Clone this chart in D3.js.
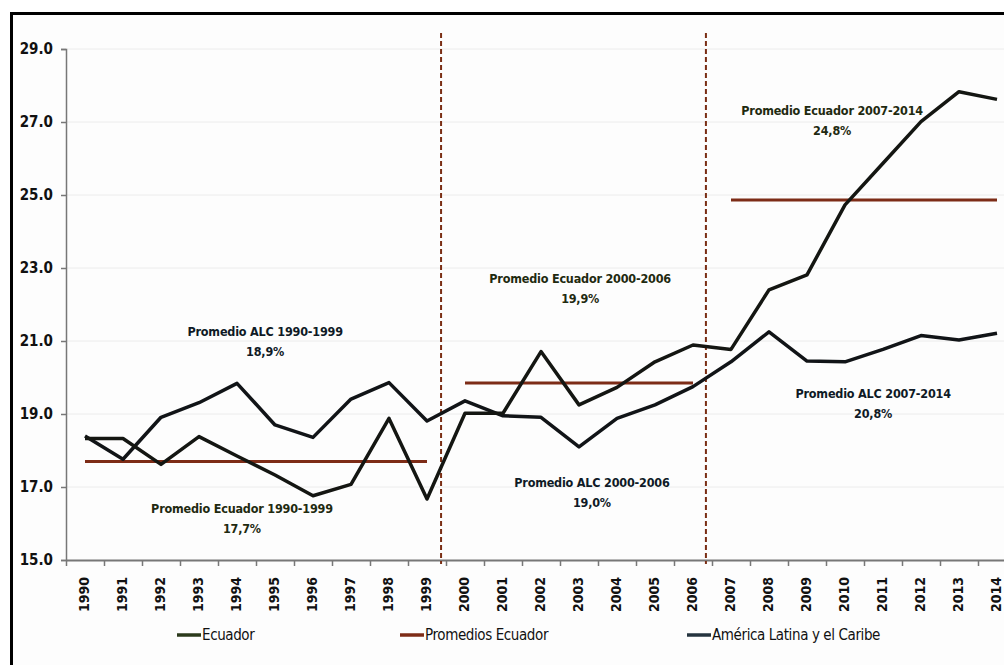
<!DOCTYPE html>
<html>
<head>
<meta charset="utf-8">
<script src="https://cdn.jsdelivr.net/npm/d3@7"></script>
<style>
  body { margin: 0; background: #ffffff; }
  svg { display: block; }
  .tick text { font-family: "Liberation Sans Narrow", "DejaVu Sans Condensed", sans-serif; font-weight: bold; fill: #111; }
  .note { font-family: "Liberation Sans Narrow", "DejaVu Sans Condensed", sans-serif; font-weight: bold; font-size: 12.5px; letter-spacing: -0.2px; }
  .legend-text { font-family: "Liberation Sans Narrow", "DejaVu Sans Condensed", sans-serif; font-size: 15px; letter-spacing: -0.4px; fill: #111; }
</style>
</head>
<body>
<div id="graphique"></div>
<script>
// années
const annees = d3.range(1990, 2015);

// Ecuador (% du PIB)
const ecuador = [18.33, 18.33, 17.62, 18.38, 17.85, 17.33, 16.76, 17.07, 18.88, 16.67,
                 19.02, 19.02, 20.71, 19.25, 19.73, 20.43, 20.89, 20.77, 22.40, 22.81,
                 24.73, 25.87, 27.01, 27.83, 27.62];

// América Latina y el Caribe
const alc = [18.40, 17.76, 18.91, 19.31, 19.84, 18.70, 18.36, 19.41, 19.86, 18.81,
             19.36, 18.95, 18.91, 18.10, 18.88, 19.25, 19.75, 20.43, 21.25, 20.45,
             20.43, 20.77, 21.15, 21.03, 21.21];

// promedios Ecuador par période
const promedios = [
    { debut: 1990, fin: 1999, valeur: 17.7 },
    { debut: 2000, fin: 2006, valeur: 19.85 },
    { debut: 2007, fin: 2014, valeur: 24.86 }
];

// séparateurs de période (traits pointillés)
const separateurs = [1999.37, 2006.34];

const yTicks = [15, 17, 19, 21, 23, 25, 27, 29];

// textes des promedios
const notes = [
    { l1: "Promedio ALC  1990-1999", l2: "18,9%", annee: 1994.74, valeur: 21.27, serie: "alc" },
    { l1: "Promedio Ecuador 1990-1999", l2: "17,7%", annee: 1994.13, valeur: 16.42, serie: "ecu" },
    { l1: "Promedio Ecuador  2000-2006", l2: "19,9%", annee: 2003.03, valeur: 22.7, serie: "ecu" },
    { l1: "Promedio ALC  2000-2006", l2: "19,0%", annee: 2003.34, valeur: 17.11, serie: "alc" },
    { l1: "Promedio Ecuador  2007-2014", l2: "24,8%", annee: 2009.66, valeur: 27.3, serie: "ecu" },
    { l1: "Promedio ALC  2007-2014", l2: "20,8%", annee: 2010.74, valeur: 19.55, serie: "alc" }
];

const legende = ["Ecuador", "Promedios Ecuador", "América Latina y el Caribe"];

function AffichageGraph() {
    const width = 1004, height = 665;
    const margin = { top: 49, left: 66 };
    const innerWidth = 950, innerHeight = 511;

    const svg = d3.select("#graphique").append("svg")
        .attr("width", width)
        .attr("height", height);

    // cadre noir
    svg.append("rect")
        .attr("x", 11.5).attr("y", 13.5)
        .attr("width", 1020).attr("height", 700)
        .style("fill", "#fdfdfd")
        .style("stroke", "#000")
        .style("stroke-width", 3);

    const g = svg.append("g")
        .attr("transform", `translate(${margin.left},${margin.top})`);

    const xScale = d3.scaleLinear()
        .domain([1989.5, 2014.5])
        .range([0, innerWidth]);

    const yScale = d3.scaleLinear()
        .domain([15, 29])
        .range([innerHeight, 0]);

    // grille
    g.selectAll(".grid")
        .data(yTicks.slice(1))
        .enter()
        .append("line")
        .attr("class", "grid")
        .attr("x1", 0)
        .attr("x2", innerWidth)
        .attr("y1", d => yScale(d))
        .attr("y2", d => yScale(d))
        .style("stroke", "#ececec")
        .style("stroke-width", 1);

    // axe ordonnee
    const axeY = g.append("g")
        .call(d3.axisLeft(yScale).tickValues(yTicks).tickFormat(d3.format(".1f")).tickSize(5).tickPadding(8));
    axeY.select(".domain").style("stroke", "#777").style("stroke-width", 1.5);
    axeY.selectAll(".tick line").style("stroke", "#777").style("stroke-width", 1.5);
    axeY.selectAll("text").style("font-size", "15px");

    // axe abscisse : traits entre les années
    const axeX = g.append("g")
        .attr("transform", `translate(0,${innerHeight})`)
        .call(d3.axisBottom(xScale).tickValues(annees.map(a => a - 0.5).concat([2014.5])).tickFormat("").tickSize(6).tickSizeOuter(0));
    axeX.select(".domain").style("stroke", "#777").style("stroke-width", 2);
    axeX.selectAll(".tick line").style("stroke", "#777").style("stroke-width", 1.5);

    // libellés des années
    const labelsX = g.append("g")
        .attr("transform", `translate(0,${innerHeight})`)
        .call(d3.axisBottom(xScale).tickValues(annees).tickFormat(d3.format("d")).tickSize(0));
    labelsX.select(".domain").remove();
    labelsX.selectAll("text")
        .attr("transform", "rotate(-90)")
        .attr("x", -17)
        .attr("y", -1)
        .attr("dy", "0.35em")
        .style("text-anchor", "end")
        .style("font-size", "14px");

    // traits pointillés
    g.selectAll(".sep")
        .data(separateurs)
        .enter()
        .append("line")
        .attr("class", "sep")
        .attr("x1", d => xScale(d))
        .attr("x2", d => xScale(d))
        .attr("y1", -16)
        .attr("y2", innerHeight + 4)
        .style("stroke", "#7a2e14")
        .style("stroke-width", 2)
        .style("stroke-dasharray", "5,3");

    // promedios
    g.selectAll(".prom")
        .data(promedios)
        .enter()
        .append("line")
        .attr("class", "prom")
        .attr("x1", d => xScale(d.debut))
        .attr("x2", d => xScale(d.fin))
        .attr("y1", d => yScale(d.valeur))
        .attr("y2", d => yScale(d.valeur))
        .style("stroke", "#7d2c17")
        .style("stroke-width", 3);

    const ligne = d3.line()
        .x((d, i) => xScale(annees[i]))
        .y(d => yScale(d));

    g.append("path")
        .datum(alc)
        .attr("d", ligne)
        .style("fill", "none")
        .style("stroke", "#111417")
        .style("stroke-width", 3.5)
        .style("stroke-linejoin", "round");

    g.append("path")
        .datum(ecuador)
        .attr("d", ligne)
        .style("fill", "none")
        .style("stroke", "#141612")
        .style("stroke-width", 3.5)
        .style("stroke-linejoin", "round");

    // textes des promedios
    const n = g.selectAll(".note")
        .data(notes)
        .enter()
        .append("text")
        .attr("class", "note")
        .attr("text-anchor", "middle")
        .attr("x", d => xScale(d.annee))
        .attr("y", d => yScale(d.valeur))
        .style("fill", d => d.serie === "ecu" ? "#1f2a10" : "#0f1a26");
    n.append("tspan").attr("x", d => xScale(d.annee)).attr("dy", "0.35em").text(d => d.l1);
    n.append("tspan").attr("x", d => xScale(d.annee)).attr("dy", "20px").text(d => d.l2);

    // légende
    const couleurs = ["#2b3a1c", "#7d2c17", "#25343f"];
    const legX = [177, 400, 687];
    const leg = svg.selectAll(".legend")
        .data(legende)
        .enter()
        .append("g")
        .attr("class", "legend")
        .attr("transform", (d, i) => `translate(${legX[i]},635)`);
    leg.append("line")
        .attr("x1", 0).attr("x2", 24)
        .style("stroke", (d, i) => couleurs[i])
        .style("stroke-width", 3.5);
    leg.append("text")
        .attr("class", "legend-text")
        .attr("x", 25)
        .attr("dy", "0.35em")
        .text(d => d);
}

AffichageGraph();
</script>
</body>
</html>
